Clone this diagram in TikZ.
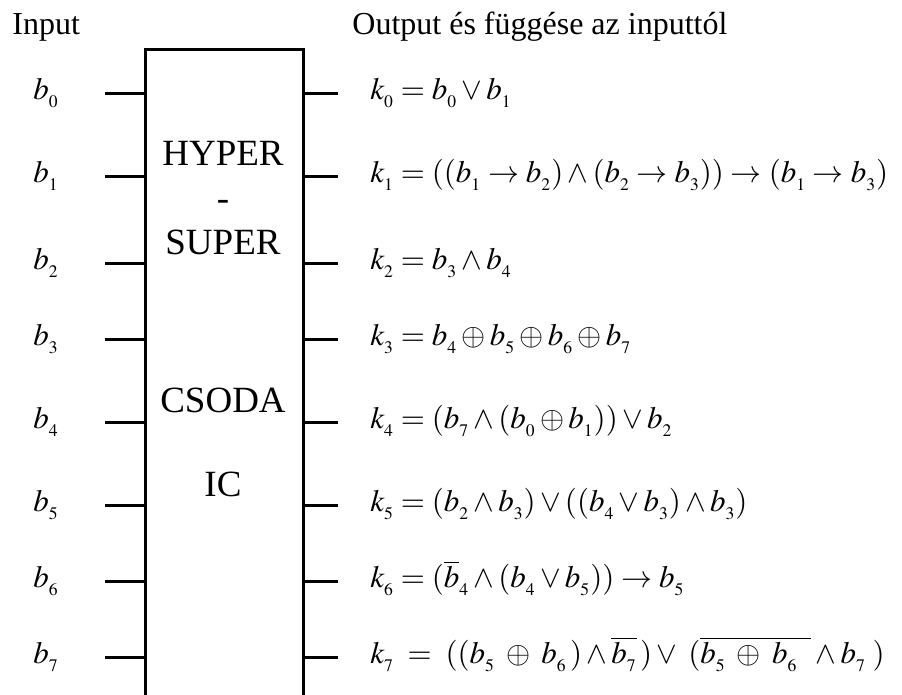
\documentclass[tikz,border=0pt]{standalone}
\usepackage{mathptmx}
\usepackage[no-math]{fontspec}
\setmainfont{Liberation Serif}
\DeclareMathSizes{15.5}{15.5}{8.8}{6.5}
\everymath{\fontdimen16\textfont2=3.6pt \fontdimen17\textfont2=3.6pt }
\begin{document}
\begin{tikzpicture}[x=0.5pt,y=-0.5pt,
  wire/.style={line width=1.5pt},
  hdr/.style={font=\fontsize{16}{19}\selectfont, anchor=base west, inner sep=0pt},
  inlab/.style={font=\fontsize{15.5}{18}\selectfont, anchor=base west, inner sep=0pt},
  outlab/.style={font=\fontsize{15.5}{18}\selectfont, anchor=base west, inner sep=0pt},
  chip/.style={font=\fontsize{18.5}{22}\selectfont, anchor=base, inner sep=0pt}]
\useasboundingbox (0,0) rectangle (902,695);
\clip (0,0) rectangle (902,695);
\node[draw, line width=1.5pt, minimum width=79pt, minimum height=336pt, inner sep=0pt, anchor=north west] (ic) at (144,48) {};
\node[hdr] (hin) at (12,35) {Input};
\node[hdr] (hout) at (352,35) {Output és függése az inputtól};
\node[chip] (t1) at (223,166) {HYPER};
\node[chip] (t2) at (223,211) {-};
\node[chip] (t3) at (223,255) {SUPER};
\node[chip] (t4) at (223,413) {CSODA};
\node[chip] (t5) at (223,497) {IC};
\foreach \i/\y in {0/94,1/177,2/264,3/340,4/423,5/506,6/582,7/658}{
  \coordinate (in\i) at (105,\y);
  \coordinate (out\i) at (338,\y);
  \draw[wire] (in\i) -- (ic.west |- in\i);
  \draw[wire] (ic.east |- out\i) -- (out\i);
  \node[inlab] (b\i) at (33,\y+6) {$b_{\i}$};
}
\node[outlab] (k0) at (370,100) {$k_0 = b_0 \vee b_1$};
\node[outlab] (k1) at (370,183) {$k_1 = ((b_1 \to b_2) \wedge (b_2 \to b_3)) \to (b_1 \to b_3)$};
\node[outlab] (k2) at (370,270) {$k_2 = b_3 \wedge b_4$};
\node[outlab] (k3) at (370,346) {$k_3 = b_4 \oplus b_5 \oplus b_6 \oplus b_7$};
\node[outlab] (k4) at (370,429) {$k_4 = (b_7 \wedge (b_0 \oplus b_1)) \vee b_2$};
\node[outlab] (k5) at (370,512) {$k_5 = (b_2 \wedge b_3) \vee ((b_4 \vee b_3) \wedge b_3)$};
\node[outlab] (k6) at (370,588) {$k_6 = (\overline{b}_4 \wedge (b_4 \vee b_5)) \to b_5$};
\node[outlab] (k7) at (370,664) {$k_7 \;=\; ((b_5 \;\oplus\; b_6\,) \wedge \overline{b_7}\,) \vee\; (\overline{b_5 \;\oplus\; b_6\;\;} \wedge b_7\;)$};
\end{tikzpicture}
\end{document}
